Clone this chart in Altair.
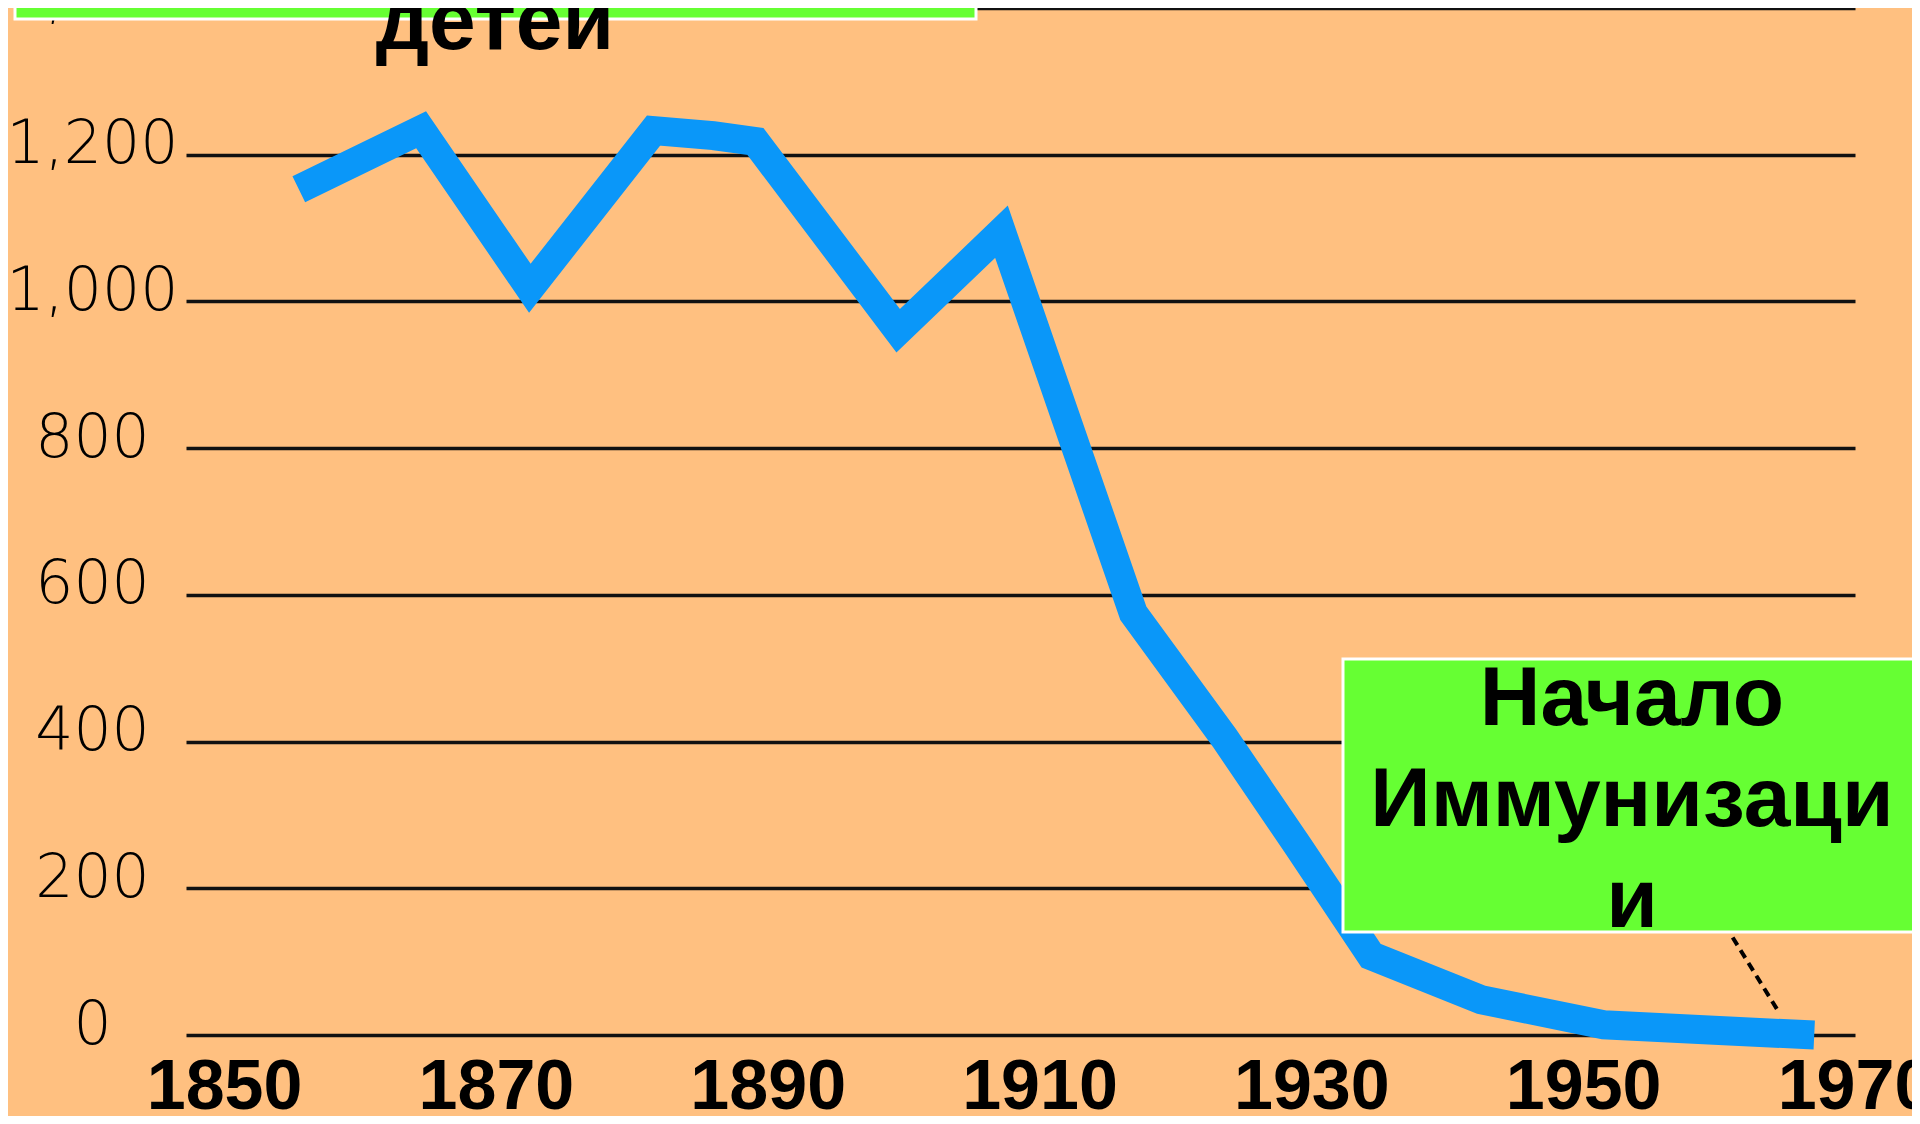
import altair as alt
import pandas as pd

# ---- data ----
years = [1855.5, 1864.5, 1872.5, 1881.6, 1886.0, 1889.1, 1899.6, 1907.2,
         1916.9, 1923.6, 1929.0, 1934.4, 1942.5, 1951.5, 1960.0, 1967.0]
deaths = [1153, 1234, 1018, 1233, 1226, 1218, 960, 1095,
          575, 405, 258, 108, 48, 14, 6, 0]

x_ticks = [1850, 1870, 1890, 1910, 1930, 1950, 1970]
y_ticks = [0, 200, 400, 600, 800, 1000, 1200, 1400]

callout_from = {"year": 1961.0, "deaths": 133}
callout_to = {"year": 1964.3, "deaths": 34}

top_box_text = "детей"
box_lines = ["Начало", "Иммунизаци", "и"]

BG = "#FFC080"
GREEN = "#66FF33"
BLUE = "#0A97F9"

df = pd.DataFrame({"year": years, "deaths": deaths})
df_call = pd.DataFrame({
    "year": [callout_from["year"]], "deaths": [callout_from["deaths"]],
    "year2": [callout_to["year"]], "deaths2": [callout_to["deaths"]],
})
one = pd.DataFrame({"k": [0]})

x_scale = alt.Scale(domain=[1847.2, 1970], nice=False, zero=False)
y_scale = alt.Scale(domain=[0, 1400], nice=False, zero=True)

line = alt.Chart(df).mark_line(
    color=BLUE, strokeWidth=29, strokeJoin="miter", strokeCap="butt"
).encode(
    x=alt.X("year:Q", scale=x_scale, axis=alt.Axis(
        values=x_ticks, format="d", title=None, grid=False, domain=False,
        ticks=False, tickSize=0, labelPadding=18, labelLimit=0,
        labelFont="Liberation Sans", labelFontSize=70, labelFontWeight="bold",
        labelColor="black", labelFlush=False, labelOverlap=False,
        labelBaseline="top")),
    y=alt.Y("deaths:Q", scale=y_scale, axis=alt.Axis(
        values=y_ticks, format=",d", title=None, grid=True, gridColor="#111111",
        gridWidth=3.5, gridOpacity=1, domain=False, ticks=False, tickSize=0,
        labelPadding=94, labelAlign="center", labelBaseline="middle",
        labelOffset=-10, labelFont="DejaVu Sans", labelFontSize=60, labelLimit=0,
        labelFontWeight=200, labelColor="black", labelOverlap=False)),
)

callout = alt.Chart(df_call).mark_rule(
    color="black", strokeWidth=4, strokeDash=[9, 6]
).encode(
    x=alt.X("year:Q", scale=x_scale),
    y=alt.Y("deaths:Q", scale=y_scale),
    x2="year2:Q",
    y2="deaths2:Q",
)

box_top = alt.Chart(one).mark_rect(fill=GREEN, stroke="white", strokeWidth=3).encode(
    x=alt.value(-171), x2=alt.value(790), y=alt.value(-20), y2=alt.value(11)
)
box_right = alt.Chart(one).mark_rect(fill=GREEN, stroke="white", strokeWidth=3).encode(
    x=alt.value(1157), x2=alt.value(1745), y=alt.value(651), y2=alt.value(924)
)

txt_top = alt.Chart(one).mark_text(
    text=top_box_text, font="Liberation Sans", fontSize=84, fontWeight="bold",
    color="black", align="center", baseline="alphabetic"
).encode(x=alt.value(309), y=alt.value(41))

txt_right = alt.Chart(one).mark_text(
    text=box_lines, font="Liberation Sans", fontSize=84, fontWeight="bold",
    color="black", align="center", baseline="alphabetic", lineHeight=101
).encode(x=alt.value(1446), y=alt.value(717))

chart = alt.layer(line, callout, box_top, box_right, txt_top, txt_right).properties(
    width=1669, height=1027, background=BG,
    padding={"left": 178, "top": 0, "right": 57, "bottom": 81},
    autosize=alt.AutoSizeParams(type="none"),
).configure_view(stroke=None)

chart.save("out.html", embed_options={"renderer": "svg", "actions": False})
